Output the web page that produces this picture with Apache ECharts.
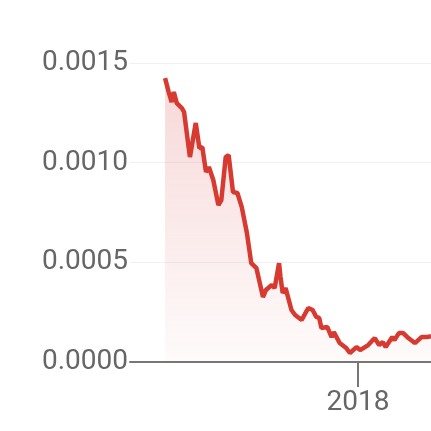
<!DOCTYPE html>
<html>
<head>
<meta charset="utf-8">
<script src="https://cdn.jsdelivr.net/npm/echarts@6/dist/echarts.min.js"></script>
<style>html,body{margin:0;padding:0;background:#fff;}#c{width:431px;height:431px;}</style>
</head>
<body>
<div id="c"></div>
<script>
const dates = ['2017-04-12','2017-04-17','2017-04-21','2017-04-24','2017-04-28','2017-05-05','2017-05-08','2017-05-16','2017-05-24','2017-05-29',
'2017-06-02','2017-06-07','2017-06-11','2017-06-17','2017-06-24','2017-06-28','2017-07-04','2017-07-08','2017-07-14','2017-07-20',
'2017-07-26','2017-08-02','2017-08-08','2017-08-15','2017-08-24','2017-08-28','2017-09-05','2017-09-09','2017-09-15','2017-09-17',
'2017-09-20','2017-09-24','2017-10-02','2017-10-07','2017-10-16','2017-10-25','2017-10-31','2017-11-05','2017-11-09','2017-11-12',
'2017-11-20','2017-11-23','2017-11-26','2017-11-29','2017-12-07','2017-12-16','2017-12-21','2017-12-30','2018-01-04','2018-01-15',
'2018-01-24','2018-01-30','2018-02-04','2018-02-08','2018-02-17','2018-02-20','2018-02-26','2018-03-04','2018-03-11','2018-03-20',
'2018-03-29','2018-04-05','2018-04-11'];
const prices = [0.001424,0.001354,0.001304,0.001354,0.001299,0.001274,0.001254,0.001028,0.001199,0.001073,
0.001078,0.000953,0.000978,0.000913,0.000787,0.000812,0.001028,0.001038,0.000853,0.000848,
0.000777,0.000647,0.000496,0.000471,0.000326,0.000361,0.000386,0.000371,0.000496,0.000426,
0.000346,0.000371,0.000261,0.000236,0.000211,0.000271,0.000261,0.000226,0.000221,0.000171,
0.000176,0.000150,0.000125,0.000150,0.000095,0.000070,0.000045,0.000075,0.000060,0.000085,
0.000120,0.000085,0.000100,0.000075,0.000125,0.000110,0.000145,0.000145,0.000120,0.000095,
0.000125,0.000125,0.000130];
const xMin = '2017-02-23';
const xMax = '2018-04-11';
const xTickDates = ['2018-01-01'];
const yTicks = [0, 0.0005, 0.0010, 0.0015];

const chart = echarts.init(document.getElementById('c'));
const ts = s => new Date(s + 'T00:00:00Z').getTime();
chart.setOption({
  animation: false,
  grid: {left: 130, right: 0, top: 63, bottom: 69},
  xAxis: {
    type: 'value',
    min: ts(xMin), max: ts(xMax),
    axisLine: {show: true, onZero: false, lineStyle: {color: '#777', width: 2}},
    axisTick: {show: true, customValues: xTickDates.map(ts), length: 25, lineStyle: {color: '#777', width: 2}},
    axisLabel: {customValues: xTickDates.map(ts), margin: 27, fontSize: 28, fontFamily: 'Roboto', color: '#666',
      formatter: v => String(new Date(v).getUTCFullYear())},
    splitLine: {show: false}
  },
  yAxis: {
    type: 'value',
    min: yTicks[0], max: yTicks[yTicks.length - 1], interval: 0.0005,
    axisLine: {show: false}, axisTick: {show: false},
    axisLabel: {margin: 2, fontSize: 28, fontFamily: 'Roboto', color: '#666', padding: [4, 0, 0, 0], formatter: v => v.toFixed(4)},
    splitLine: {show: true, lineStyle: {color: '#f0f0f0', width: 1}}
  },
  series: [{
    type: 'line',
    data: dates.map((d, i) => [ts(d), prices[i]]),
    showSymbol: false,
    lineStyle: {color: '#d63a30', width: 4.5},
    itemStyle: {color: '#d63a30'},
    areaStyle: {color: new echarts.graphic.LinearGradient(0, 0, 0, 1, [
      {offset: 0, color: 'rgba(220,70,70,0.30)'},
      {offset: 1, color: 'rgba(220,70,70,0.03)'}
    ])}
  }]
});
</script>
</body>
</html>
